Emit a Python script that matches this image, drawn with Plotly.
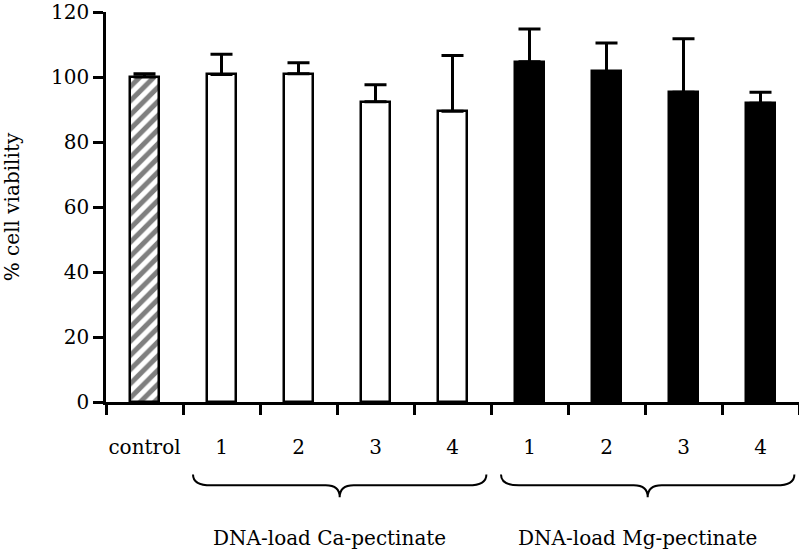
import numpy as np
import plotly.graph_objects as go

# ---- data ----
tick_labels = ["control", "1", "2", "3", "4", "1", "2", "3", "4"]
control_value = [100.0]
control_err = [1.0]
ca_values = [100.8, 101.0, 92.4, 89.5]
ca_err = [6.2, 3.4, 5.2, 17.1]
mg_values = [104.7, 101.7, 95.3, 91.9]
mg_err = [10.1, 8.8, 16.5, 3.4]
group_labels = ["DNA-load Ca-pectinate", "DNA-load Mg-pectinate"]
y_title = "% cell viability"
y_range = [0, 120]

FONT = "DejaVu Serif"
n_cat = len(tick_labels)
centers = np.arange(n_cat) + 0.5
x_ctrl = centers[:1]
x_ca = centers[1:1 + len(ca_values)]
x_mg = centers[1 + len(ca_values):]

bar_w = 0.38
line_w = 2.5


def err(arr):
    return dict(type="data", symmetric=False, array=arr, arrayminus=[0] * len(arr),
                color="black", thickness=3, width=11)


fig = go.Figure()
fig.add_trace(go.Bar(
    x=x_ctrl, y=control_value, width=bar_w, error_y=err(control_err),
    marker=dict(color="white", line=dict(color="black", width=line_w),
                pattern=dict(shape="/", fgcolor="black", bgcolor="white", size=10, solidity=0.5)),
    showlegend=False))
fig.add_trace(go.Bar(
    x=x_ca, y=ca_values, width=bar_w, error_y=err(ca_err),
    marker=dict(color="white", line=dict(color="black", width=line_w)),
    showlegend=False))
fig.add_trace(go.Bar(
    x=x_mg, y=mg_values, width=bar_w, error_y=err(mg_err),
    marker=dict(color="black", line=dict(color="black", width=line_w)),
    showlegend=False))

x_range = [0, n_cat]


def to_paper(xd):
    return (xd - x_range[0]) / (x_range[1] - x_range[0])


# curly braces under the two groups (computed from group extents)
groups = [(1, 1 + len(ca_values)), (1 + len(ca_values), n_cat)]
plot_h = 393.0
y_top = -73 / plot_h
y_mid = -84 / plot_h
y_bot = -96 / plot_h
plot_w = 693.0
rx = 18 / plot_w
ra = 14 / plot_w
for gi, (g0, g1) in enumerate(groups):
    x0 = to_paper(g0 + 0.13)
    x1 = to_paper(g1 - 0.06)
    xc = (x0 + x1) / 2
    path = (f"M {x0},{y_top} "
            f"Q {x0},{y_mid} {x0 + rx},{y_mid} "
            f"L {xc - ra},{y_mid} "
            f"Q {xc},{y_mid} {xc},{y_bot} "
            f"Q {xc},{y_mid} {xc + ra},{y_mid} "
            f"L {x1 - rx},{y_mid} "
            f"Q {x1},{y_mid} {x1},{y_top}")
    fig.add_shape(type="path", path=path, xref="paper", yref="paper",
                  line=dict(color="black", width=2))
    fig.add_annotation(x=(g0 + g1) / 2 - 0.1, xref="x", y=-137 / plot_h, yref="paper",
                       text=group_labels[gi], showarrow=False,
                       font=dict(family=FONT, size=20, color="black"),
                       xanchor="center", yanchor="middle")

fig.update_layout(
    width=799, height=552,
    margin=dict(l=106, r=0, t=9, b=150),
    paper_bgcolor="white", plot_bgcolor="white",
    font=dict(family=FONT, size=20, color="black"),
    bargap=0,
    xaxis=dict(range=x_range, tickmode="array", tickvals=centers, ticktext=tick_labels,
               ticks="", showline=True, linecolor="black", linewidth=2.5,
               showgrid=False, zeroline=False, ticklabelstandoff=25,
               tickfont=dict(family=FONT, size=20, color="black"),
               minor=dict(tickmode="linear", tick0=0, dtick=1, ticks="outside",
                          ticklen=10, tickwidth=2.5, tickcolor="black", showgrid=False)),
    yaxis=dict(range=y_range, tickmode="linear", tick0=0, dtick=20,
               ticks="outside", ticklen=10, tickwidth=2.5, tickcolor="black",
               showline=True, linecolor="black", linewidth=2.5,
               showgrid=False, zeroline=False, ticklabeloverflow="allow",
               tickfont=dict(family=FONT, size=20, color="black"),
               title=dict(text=y_title, standoff=28,
                          font=dict(family=FONT, size=20, color="black"))),
)

fig.write_html("out.html", config={"displayModeBar": False},
               post_script="document.body.style.margin='0';document.body.style.padding='0';")
